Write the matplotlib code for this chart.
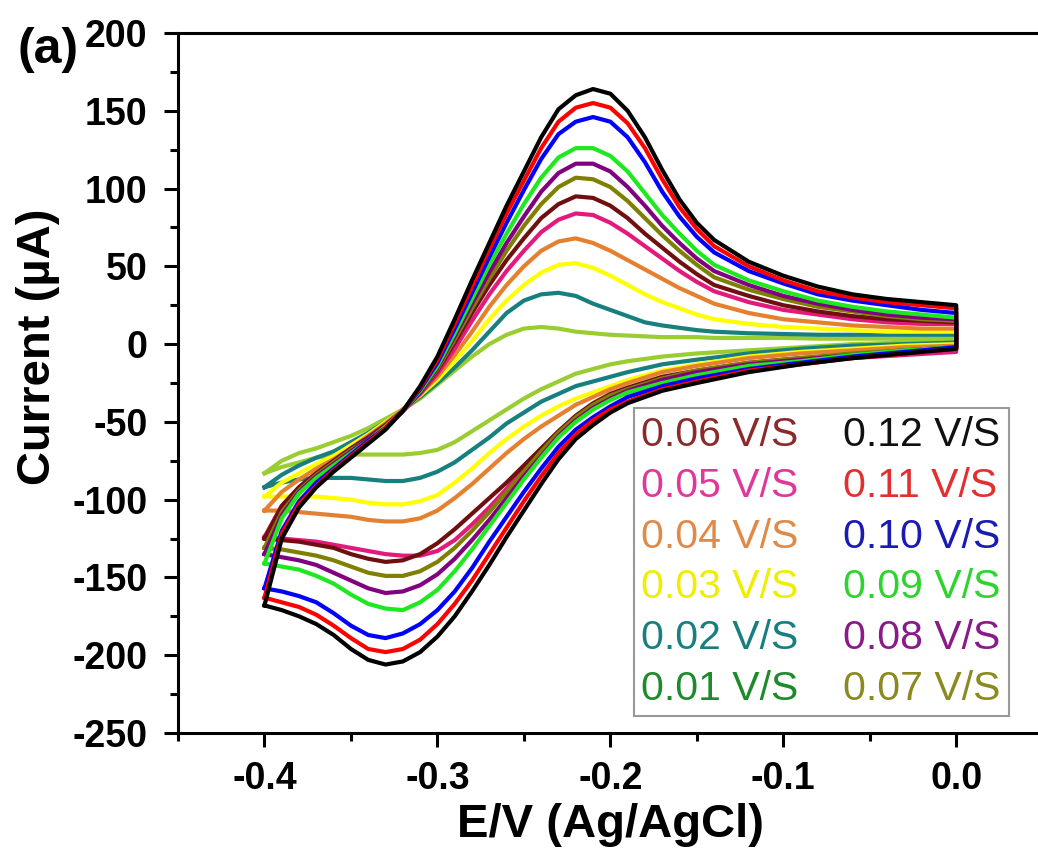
import matplotlib
matplotlib.use("Agg")
import matplotlib.pyplot as plt
from matplotlib.ticker import MultipleLocator, FormatStrFormatter

plt.rcParams['font.family'] = ['Liberation Sans', 'DejaVu Sans']
plt.rcParams['axes.unicode_minus'] = False

# potential grids (V vs Ag/AgCl): forward sweep -0.4 -> 0.0, then back
E_fwd = [-0.40, -0.39, -0.38, -0.37, -0.36, -0.35, -0.34, -0.33, -0.32, -0.31,
         -0.30, -0.29, -0.28, -0.27, -0.26, -0.25, -0.24, -0.23, -0.22, -0.21,
         -0.20, -0.19, -0.18, -0.17, -0.16, -0.15, -0.14,
         -0.12, -0.10, -0.08, -0.06, -0.04, -0.02, 0.00]
E_rev = [0.00, -0.03, -0.06, -0.09, -0.12, -0.15, -0.17, -0.19,
         -0.20, -0.21, -0.22, -0.23, -0.24, -0.25, -0.26, -0.27, -0.28, -0.29, -0.30,
         -0.31, -0.32, -0.33, -0.34, -0.35, -0.36, -0.37, -0.38, -0.39, -0.40]

# current (uA) for each scan rate
i_fwd_01 = [-83, -75, -70, -67, -63, -59, -54, -48, -42, -35, -26, -17, -8, 0, 6, 10, 11, 10, 8, 7,
            6, 5.5, 5, 4.5, 4.5, 4.5, 4, 4, 4, 3.5, 3.5, 3.5, 3.5, 3.5]
i_rev_01 = [2, 1, 0, -2, -4, -6, -8, -11, -13, -16, -19, -24, -29, -35, -42, -49, -56, -63, -68,
            -70, -71, -71, -71, -71, -72, -73, -76, -79, -83]
i_fwd_02 = [-92, -84, -78, -73, -69, -63, -57, -50, -42, -34, -25, -15, -4, 8, 20, 28, 32, 33, 31, 26,
            22, 18, 14, 12, 10.5, 9, 8, 7, 6.5, 6, 6, 6, 6, 6]
i_rev_02 = [1, 0, -1, -3, -6, -10, -13, -18, -21, -24, -27, -32, -37, -44, -51, -60, -68, -76, -82,
            -86, -88, -88, -87, -86, -86, -86, -87, -89, -92]
i_fwd_03 = [-98, -89, -83, -77, -72, -65, -58, -50, -42, -33, -23, -11, 2, 16, 28, 38, 46, 51, 52, 49,
            44, 38, 32, 27, 23, 19, 16, 13, 11, 10, 9, 8, 8, 8]
i_rev_03 = [0, -1, -3, -5, -8, -13, -17, -23, -27, -31, -35, -40, -46, -53, -61, -70, -80, -89, -97,
            -101, -103, -103, -102, -100, -99, -98, -98, -98, -98]
i_fwd_04 = [-107, -95, -87, -80, -74, -67, -59, -51, -42, -32, -21, -7, 8, 24, 38, 50, 60, 66, 68, 65,
            60, 54, 48, 42, 36, 31, 26, 20, 16, 14, 12, 11, 10, 10]
i_rev_04 = [-1, -2, -4, -6, -9, -14, -18, -25, -29, -34, -39, -46, -53, -61, -70, -80, -90, -99, -107,
            -112, -114, -114, -113, -111, -110, -109, -108, -107, -107]
i_fwd_05 = [-124, -104, -92, -83, -75, -67, -60, -52, -43, -32, -19, -3, 15, 32, 47, 60, 72, 80, 84, 83,
            78, 71, 63, 55, 47, 40, 34, 27, 22, 19, 16, 14, 13, 13]
i_rev_05 = [-5, -7, -9, -11, -14, -19, -23, -31, -35, -41, -48, -57, -68, -80, -93, -105, -116, -126, -133,
            -136, -136, -135, -133, -131, -129, -127, -126, -125, -124]
i_fwd_06 = [-125, -104, -92, -83, -75, -67, -60, -52, -43, -31, -17, 1, 20, 38, 54, 68, 81, 90, 95, 94,
            89, 81, 71, 62, 53, 45, 38, 31, 25, 21, 18, 16, 15, 14]
i_rev_06 = [-3, -5, -7, -9, -12, -17, -21, -28, -32, -38, -46, -56, -67, -78, -89, -99, -109, -119, -128,
            -135, -139, -140, -138, -135, -131, -129, -127, -126, -125]
i_fwd_07 = [-131, -108, -94, -84, -76, -68, -61, -53, -43, -31, -16, 3, 23, 42, 60, 76, 90, 101, 107, 106,
            101, 92, 81, 70, 60, 51, 43, 35, 29, 24, 21, 18, 16, 15]
i_rev_07 = [-2, -4, -6, -9, -12, -17, -22, -29, -33, -39, -47, -57, -69, -82, -95, -108, -120, -131, -140,
            -146, -149, -149, -147, -143, -139, -136, -134, -132, -131]
i_fwd_08 = [-135, -110, -95, -85, -77, -69, -61, -53, -43, -31, -15, 5, 26, 46, 65, 82, 98, 110, 116, 116,
            111, 101, 89, 76, 65, 55, 47, 38, 31, 26, 22, 19, 17, 16]
i_rev_08 = [-2, -4, -7, -10, -13, -18, -23, -30, -35, -41, -49, -59, -72, -85, -99, -113, -126, -138, -148,
            -155, -159, -160, -157, -152, -147, -142, -139, -137, -135]
i_fwd_09 = [-141, -112, -96, -86, -78, -70, -62, -53, -43, -30, -14, 7, 29, 51, 71, 90, 107, 120, 126, 126,
            121, 111, 97, 83, 71, 60, 51, 41, 34, 28, 24, 21, 19, 17]
i_rev_09 = [-2, -4, -7, -11, -14, -20, -25, -31, -36, -42, -50, -60, -73, -87, -102, -117, -132, -146, -158,
            -166, -171, -170, -167, -161, -154, -149, -145, -143, -141]
i_fwd_10 = [-157, -120, -101, -89, -80, -71, -62, -54, -43, -29, -12, 10, 33, 56, 78, 99, 119, 135, 143, 146,
            143, 133, 117, 98, 82, 69, 59, 47, 39, 32, 28, 25, 22, 20]
i_rev_10 = [-2, -5, -8, -12, -16, -22, -27, -34, -40, -47, -55, -66, -80, -95, -111, -127, -144, -159, -171,
            -180, -186, -189, -187, -181, -173, -166, -162, -159, -157]
i_fwd_11 = [-163, -122, -103, -91, -81, -72, -63, -54, -43, -28, -10, 13, 37, 61, 84, 105, 126, 143, 152, 155,
            152, 142, 126, 106, 88, 74, 63, 50, 41, 34, 30, 27, 25, 23]
i_rev_11 = [-3, -6, -9, -13, -17, -24, -29, -37, -42, -49, -58, -70, -85, -101, -118, -135, -152, -167, -180,
            -190, -196, -198, -196, -189, -181, -174, -169, -166, -163]
i_fwd_12 = [-168, -125, -105, -92, -82, -73, -64, -55, -43, -27, -8, 16, 41, 65, 89, 111, 133, 151, 160, 164,
            161, 150, 133, 112, 93, 78, 67, 53, 44, 37, 32, 29, 27, 25]
i_rev_12 = [-3, -6, -9, -13, -18, -25, -30, -38, -44, -52, -61, -74, -90, -107, -124, -142, -159, -175, -188,
            -198, -204, -206, -203, -196, -187, -180, -175, -171, -168]

labels = ['0.01 V/S', '0.02 V/S', '0.03 V/S', '0.04 V/S', '0.05 V/S', '0.06 V/S',
          '0.07 V/S', '0.08 V/S', '0.09 V/S', '0.10 V/S', '0.11 V/S', '0.12 V/S']
line_colors = ['#9acd32', '#17807f', '#ffff00', '#e5802f', '#e3197c', '#700f0f',
               '#808000', '#800080', '#1ee81e', '#0000ff', '#ff0000', '#000000']
text_colors = ['#1f8a2c', '#17807f', '#f0ee00', '#e08a48', '#e0379a', '#8a2a2a',
               '#8a8a20', '#8a1a8a', '#2ed42e', '#1a1ab4', '#e03030', '#111111']

fwd = [i_fwd_01, i_fwd_02, i_fwd_03, i_fwd_04, i_fwd_05, i_fwd_06,
       i_fwd_07, i_fwd_08, i_fwd_09, i_fwd_10, i_fwd_11, i_fwd_12]
rev = [i_rev_01, i_rev_02, i_rev_03, i_rev_04, i_rev_05, i_rev_06,
       i_rev_07, i_rev_08, i_rev_09, i_rev_10, i_rev_11, i_rev_12]

fig = plt.figure(figsize=(10.38, 8.58), dpi=100)
ax = fig.add_axes([0.1715, 0.1457, 0.833, 0.8158])

lines = []
for k in range(len(labels)):
    ln, = ax.plot(E_fwd + E_rev, fwd[k] + rev[k], color=line_colors[k], lw=3,
                  solid_joinstyle='round', label=labels[k])
    lines.append(ln)

ax.set_xlim(-0.45, 0.05)
ax.set_ylim(-250, 200)
ax.set_xticks([-0.4, -0.3, -0.2, -0.1, 0.0])
ax.xaxis.set_major_formatter(FormatStrFormatter('%.1f'))
ax.xaxis.set_minor_locator(MultipleLocator(0.05))
ax.yaxis.set_major_locator(MultipleLocator(50))
ax.yaxis.set_minor_locator(MultipleLocator(25))

for s in ax.spines.values():
    s.set_linewidth(2.2)
ax.tick_params(which='major', direction='out', length=10, width=2.2, labelsize=27, pad=10)
ax.tick_params(axis='y', which='major', pad=12)
ax.tick_params(which='minor', direction='out', length=6, width=2.2)
for t in ax.get_xticklabels() + ax.get_yticklabels():
    t.set_fontweight('bold')

ax.set_xlabel('E/V (Ag/AgCl)', fontsize=34, fontweight='bold')
ax.xaxis.label.set_va('center')
ax.xaxis.set_label_coords(0.5, -0.131)
ax.set_ylabel('Current (\u00b5A)', fontsize=34, fontweight='bold')
ax.yaxis.label.set_va('center')
ax.yaxis.set_label_coords(-0.1615, 0.552)

fig.text(48 / 1038, 1 - 50 / 858, '(a)', fontsize=36, fontweight='bold', ha='center', va='center')

# two legend columns: 0.06..0.01 on the left, 0.12..0.07 on the right
order = [5, 4, 3, 2, 1, 0, 11, 10, 9, 8, 7, 6]
leg = ax.legend([lines[k] for k in order], [labels[k] for k in order], ncol=2,
                loc='upper left', bbox_to_anchor=(634 / 1038, 1 - 408 / 858),
                bbox_transform=fig.transFigure, fontsize=29.5, frameon=True, fancybox=False,
                handlelength=0, handletextpad=-0.02, columnspacing=1.1, labelspacing=0.31,
                borderpad=0.2, borderaxespad=0)
leg.get_frame().set_edgecolor('#808080')
leg.get_frame().set_linewidth(1.5)
for h in leg.legend_handles:
    h.set_visible(False)
for t, k in zip(leg.get_texts(), order):
    t.set_color(text_colors[k])

fig.savefig('out.png', dpi=100)
